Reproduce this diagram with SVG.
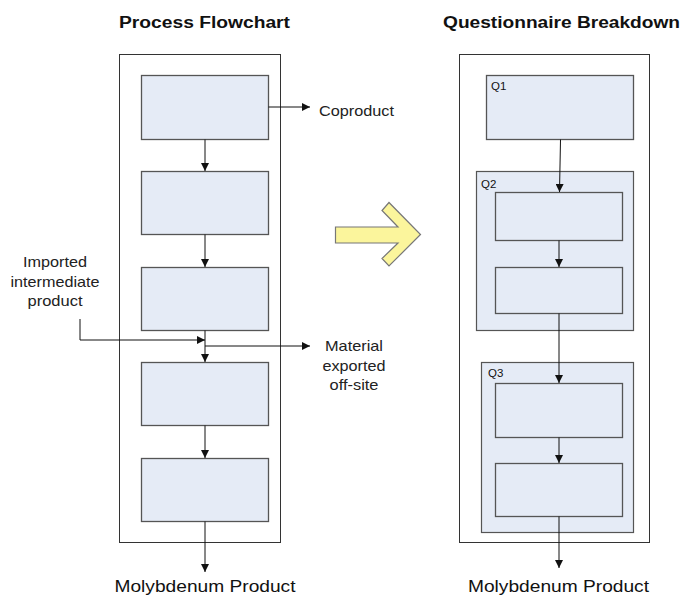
<svg xmlns="http://www.w3.org/2000/svg" width="685" height="595" viewBox="0 0 685 595">
  <defs>
    <marker id="arrow" viewBox="0 0 10 10" refX="10" refY="5" markerWidth="8" markerHeight="8" markerUnits="userSpaceOnUse" orient="auto">
      <path d="M0,0 L10,5 L0,10 z" fill="#111"/>
    </marker>
    <style>
      .frame { fill: #fff; stroke: #333; stroke-width: 1; }
      .step { fill: #e5ebf6; stroke: #555; stroke-width: 1.3; }
      .group { fill: #e5ebf6; stroke: #555; stroke-width: 1.2; }
      .conn { fill: none; stroke: #111; stroke-width: 1; marker-end: url(#arrow); }
      .title { font-family: "Liberation Sans", Arial, sans-serif; font-weight: bold; font-size: 16px; fill: #111; }
      .label { font-family: "Liberation Sans", Arial, sans-serif; font-size: 14.5px; fill: #222; }
      .big { font-family: "Liberation Sans", Arial, sans-serif; font-size: 17px; fill: #111; }
      .q { font-family: "Liberation Sans", Arial, sans-serif; font-size: 11.5px; fill: #111; }
    </style>
  </defs>
  <rect width="685" height="595" fill="#fff"/>

  <!-- Titles -->
  <text class="title" x="119" y="28" textLength="171" lengthAdjust="spacingAndGlyphs">Process Flowchart</text>
  <text class="title" x="443" y="28" textLength="237" lengthAdjust="spacingAndGlyphs">Questionnaire Breakdown</text>

  <!-- Process flowchart -->
  <g id="process-frame"><rect class="frame" x="119.5" y="54.5" width="161" height="488"/></g>
  <g id="step1"><rect class="step" x="141.5" y="75.5" width="127" height="64"/></g>
  <g id="step2"><rect class="step" x="141.5" y="171.5" width="127" height="63"/></g>
  <g id="step3"><rect class="step" x="141.5" y="267.5" width="127" height="63"/></g>
  <g id="step4"><rect class="step" x="141.5" y="362.5" width="127" height="63"/></g>
  <g id="step5"><rect class="step" x="141.5" y="458.5" width="127" height="63"/></g>

  <g id="coproduct-label"><text class="label" x="319" y="116" textLength="75" lengthAdjust="spacingAndGlyphs">Coproduct</text></g>
  <g id="imported-label">
    <text class="label" x="55" y="267" text-anchor="middle" textLength="64" lengthAdjust="spacingAndGlyphs">Imported</text>
    <text class="label" x="55" y="287" text-anchor="middle" textLength="89" lengthAdjust="spacingAndGlyphs">intermediate</text>
    <text class="label" x="55" y="306" text-anchor="middle" textLength="55" lengthAdjust="spacingAndGlyphs">product</text>
  </g>
  <g id="exported-label">
    <text class="label" x="354" y="351" text-anchor="middle" textLength="58" lengthAdjust="spacingAndGlyphs">Material</text>
    <text class="label" x="354" y="371" text-anchor="middle" textLength="63" lengthAdjust="spacingAndGlyphs">exported</text>
    <text class="label" x="354" y="390" text-anchor="middle" textLength="49" lengthAdjust="spacingAndGlyphs">off-site</text>
  </g>
  <g id="product-left"><text class="big" x="205" y="592" text-anchor="middle" textLength="181" lengthAdjust="spacingAndGlyphs">Molybdenum Product</text></g>

  <!-- Transition arrow -->
  <g id="transition">
    <polygon points="335.5,227 398,227 382,210.5 389,202.5 420.5,234.5 389,266 382,258.5 398,243 335.5,243" fill="#fbf59c" stroke="#777" stroke-width="1.2" stroke-linejoin="miter"/>
  </g>

  <!-- Questionnaire breakdown -->
  <g id="questionnaire-frame"><rect class="frame" x="459.5" y="54.5" width="190" height="488"/></g>
  <g id="q1">
    <rect class="step" x="486.5" y="75.5" width="147" height="64"/>
    <text class="q" x="491" y="90">Q1</text>
  </g>
  <g id="q2">
    <rect class="group" x="476.5" y="171.5" width="157" height="159"/>
    <text class="q" x="481" y="188">Q2</text>
    <rect class="step" x="495.5" y="192.5" width="127" height="48"/>
    <rect class="step" x="495.5" y="267.5" width="127" height="46"/>
  </g>
  <g id="q3">
    <rect class="group" x="481.5" y="362.5" width="152" height="170"/>
    <text class="q" x="488" y="377">Q3</text>
    <rect class="step" x="495.5" y="383.5" width="127" height="54"/>
    <rect class="step" x="495.5" y="463.5" width="127" height="53"/>
  </g>
  <g id="product-right"><text class="big" x="558.5" y="592" text-anchor="middle" textLength="181" lengthAdjust="spacingAndGlyphs">Molybdenum Product</text></g>

  <!-- Connectors -->
  <g id="connectors">
    <path class="conn" d="M205,139.5 V171"/>
    <path class="conn" d="M205,234.5 V267"/>
    <path class="conn" d="M205,330.5 V362"/>
    <path class="conn" d="M205,425.5 V458"/>
    <path class="conn" d="M205,521.5 V572"/>
    <path class="conn" d="M268.5,107 H310"/>
    <path class="conn" d="M80,319 V340 H205"/>
    <path class="conn" d="M205,346 H310"/>
    <path class="conn" d="M560.5,139.5 L559.5,192"/>
    <path class="conn" d="M559,240.5 V267"/>
    <path class="conn" d="M559,313.5 V383"/>
    <path class="conn" d="M559,437.5 V463"/>
    <path class="conn" d="M559,516.5 V568"/>
  </g>
</svg>
